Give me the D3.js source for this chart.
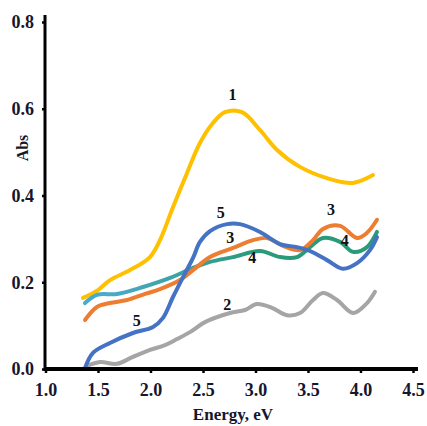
<!DOCTYPE html>
<html>
<head>
<meta charset="utf-8">
<script src="https://cdn.jsdelivr.net/npm/d3@7"></script>
<style>
  body { margin: 0; background: #fff; }
  svg { display: block; }
  text { font-family: "Liberation Serif", "Times New Roman", serif; font-weight: bold; }
</style>
</head>
<body>
<svg width="427" height="426"></svg>
<script>
// absorption spectra (energy eV, abs)
var curve1 = [[1.357,0.164],[1.5,0.182],[1.614,0.205],[1.805,0.228],[1.995,0.258],[2.09,0.297],[2.214,0.373],[2.348,0.452],[2.471,0.521],[2.595,0.567],[2.71,0.592],[2.871,0.592],[3.043,0.551],[3.205,0.505],[3.424,0.466],[3.681,0.44],[3.929,0.429],[4.119,0.447]];
var curve2 = [[1.395,0.007],[1.52,0.016],[1.68,0.012],[1.833,0.028],[1.995,0.044],[2.138,0.055],[2.252,0.069],[2.376,0.085],[2.519,0.108],[2.757,0.129],[2.9,0.136],[3.014,0.15],[3.157,0.141],[3.3,0.124],[3.424,0.129],[3.548,0.159],[3.643,0.175],[3.776,0.159],[3.929,0.129],[4.062,0.152],[4.138,0.178]];
var curve3 = [[1.376,0.113],[1.49,0.143],[1.614,0.152],[1.776,0.159],[1.948,0.173],[2.09,0.184],[2.281,0.205],[2.405,0.228],[2.567,0.258],[2.786,0.279],[2.976,0.297],[3.11,0.302],[3.262,0.284],[3.424,0.274],[3.548,0.297],[3.643,0.323],[3.805,0.33],[3.967,0.302],[4.062,0.314],[4.157,0.344]];
var curve4 = [[1.376,0.152],[1.49,0.171],[1.681,0.173],[1.929,0.189],[2.186,0.21],[2.405,0.233],[2.567,0.247],[2.786,0.258],[3.043,0.272],[3.233,0.258],[3.395,0.258],[3.519,0.281],[3.643,0.302],[3.805,0.293],[3.929,0.27],[4.062,0.281],[4.157,0.316]];
var curve5 = [[1.376,0.002],[1.452,0.037],[1.614,0.06],[1.833,0.083],[2.024,0.097],[2.119,0.118],[2.214,0.166],[2.31,0.212],[2.405,0.256],[2.471,0.293],[2.567,0.318],[2.729,0.334],[2.852,0.334],[3.043,0.316],[3.233,0.288],[3.395,0.281],[3.519,0.272],[3.681,0.251],[3.833,0.231],[3.967,0.244],[4.09,0.274],[4.157,0.304]];

var xTicks = [1.0,1.5,2.0,2.5,3.0,3.5,4.0,4.5];
var yTicks = [0.0,0.2,0.4,0.6,0.8];

// curve number labels: [text, x, y]
var labels = [["1",2.78,0.62],["2",2.73,0.137],["3",2.76,0.29],["3",3.72,0.355],["4",2.97,0.245],["4",3.85,0.283],["5",2.67,0.348],["5",1.87,0.098]];

var svg = d3.select("svg");
var x = d3.scaleLinear().domain([1.0,4.5]).range([45.5,413]);
var y = d3.scaleLinear().domain([0,0.8]).range([369,22]);

var ink = "#16162e";

// gradient for curve 4 (light blue turning into teal green)
var grad = svg.append("defs").append("linearGradient")
	.attr("id","g4").attr("gradientUnits","userSpaceOnUse")
	.attr("x1",x(1.6)).attr("x2",x(3.0)).attr("y1",0).attr("y2",0);
grad.append("stop").attr("offset","0%").attr("stop-color","#4aaacb");
grad.append("stop").attr("offset","100%").attr("stop-color","#2a9a78");

var line = d3.line()
	.x(function(d){ return x(d[0]); })
	.y(function(d){ return y(d[1]); })
	.curve(d3.curveCatmullRom);

var series = [
	{data: curve1, color: "#ffc000"},
	{data: curve2, color: "#a5a5a5"},
	{data: curve4, color: "url(#g4)"},
	{data: curve3, color: "#ed7d31"},
	{data: curve5, color: "#4472c4"}
];

svg.append("g").selectAll("path").data(series).enter()
	.append("path")
	.attr("d", function(d){ return line(d.data); })
	.attr("fill","none")
	.attr("stroke", function(d){ return d.color; })
	.attr("stroke-width", 4)
	.attr("stroke-linecap","round");

// axes
var xAxis = svg.append("g").attr("transform","translate(0,369)")
	.call(d3.axisBottom(x).tickValues(xTicks).tickFormat(d3.format(".1f")).tickSize(4).tickSizeOuter(0).tickPadding(10));
xAxis.select(".domain").attr("stroke","#000").attr("stroke-width",4).attr("d","M45,0H418");
xAxis.selectAll(".tick line").attr("stroke","#000").attr("stroke-width",2.5);
xAxis.selectAll(".tick text").attr("fill",ink).attr("font-size",18).attr("font-family","Liberation Serif").attr("font-weight","bold");

var yAxis = svg.append("g").attr("transform","translate(45,0)")
	.call(d3.axisLeft(y).tickValues(yTicks).tickFormat(d3.format(".1f")).tickSize(3).tickSizeOuter(0).tickPadding(8));
yAxis.select(".domain").attr("stroke","#000").attr("stroke-width",3).attr("d","M0,15V371");
yAxis.selectAll(".tick line").attr("stroke","#000").attr("stroke-width",2.5);
yAxis.selectAll(".tick text").attr("fill",ink).attr("font-size",18).attr("font-family","Liberation Serif").attr("font-weight","bold");

svg.append("text").attr("x",233).attr("y",420).attr("text-anchor","middle")
	.attr("font-size",17).attr("fill",ink).text("Energy, eV");
svg.append("text").attr("transform","translate(28,148) rotate(-90)").attr("text-anchor","middle")
	.attr("font-size",16).attr("fill",ink).text("Abs");

svg.append("g").selectAll("text").data(labels).enter()
	.append("text")
	.attr("x", function(d){ return x(d[1]); })
	.attr("y", function(d){ return y(d[2]); })
	.attr("text-anchor","middle")
	.attr("font-size",16)
	.attr("fill","#111")
	.text(function(d){ return d[0]; });
</script>
</body>
</html>
